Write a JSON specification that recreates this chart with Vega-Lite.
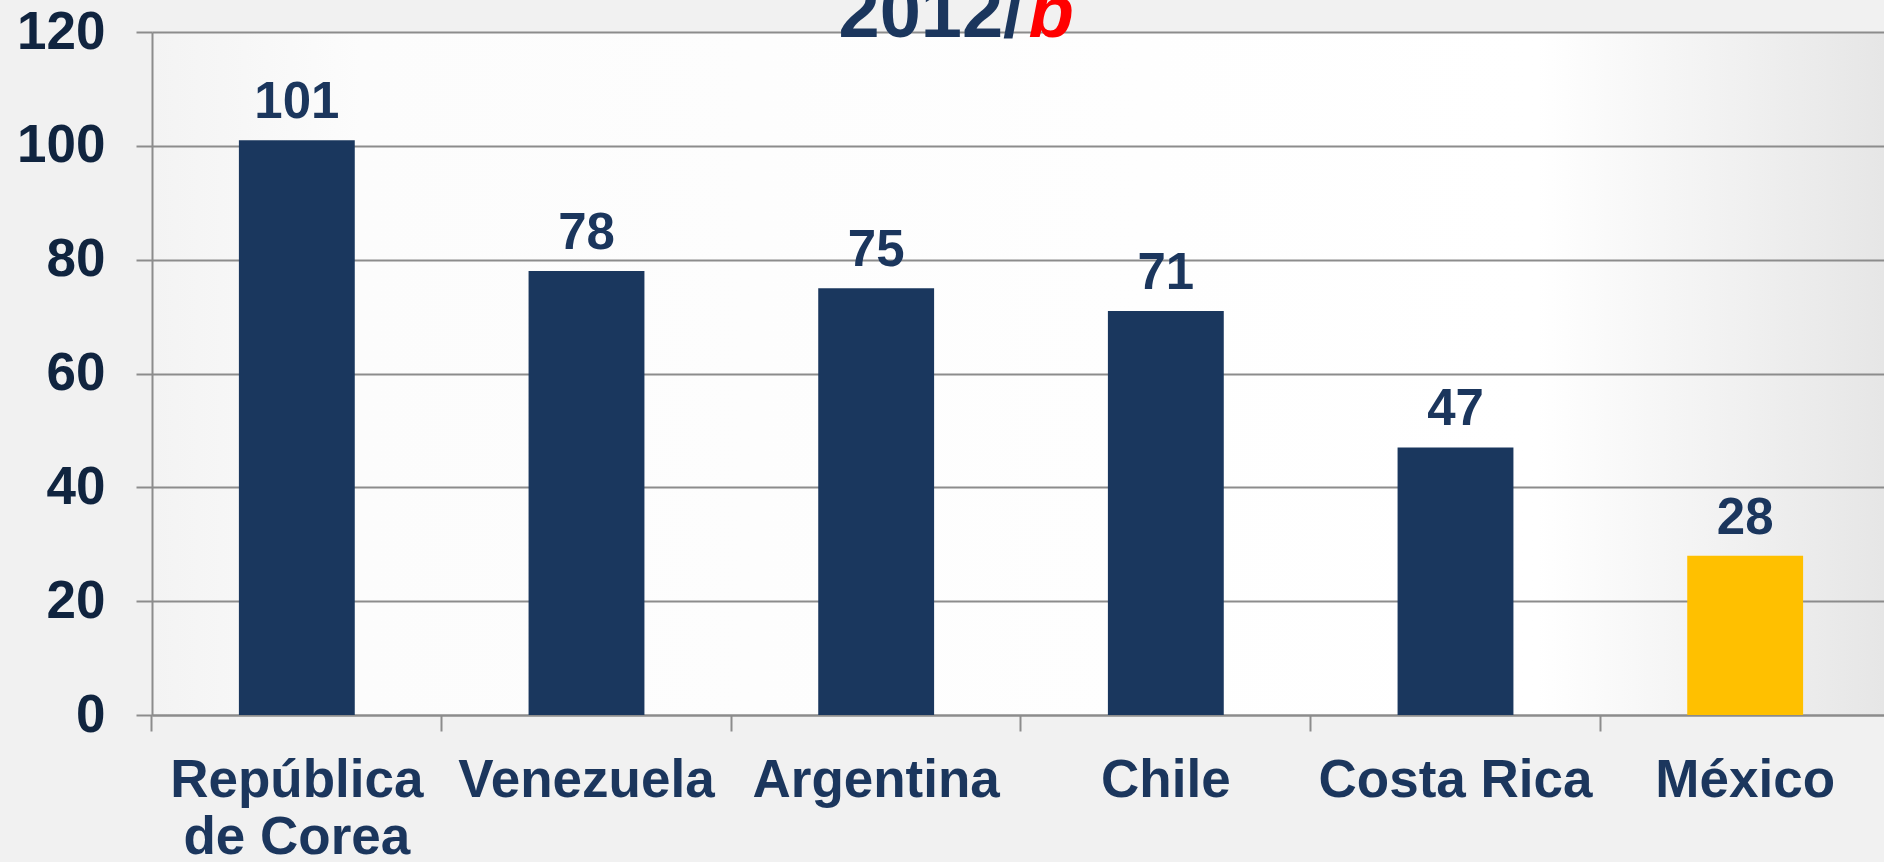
{
  "$schema": "https://vega.github.io/schema/vega-lite/v6.json",
  "width": 1732,
  "height": 683,
  "autosize": {"type": "none"},
  "padding": {"left": 152, "top": 32, "right": 0, "bottom": 147},
  "background": "#f1f1f1",
  "view": {
    "stroke": null,
    "fill": {
      "gradient": "linear", "x1": 0, "y1": 0, "x2": 1, "y2": 0,
      "stops": [
        {"offset": 0, "color": "#f3f3f3"},
        {"offset": 0.12, "color": "#fcfcfc"},
        {"offset": 0.8, "color": "#ffffff"},
        {"offset": 1, "color": "#e6e6e6"}
      ]
    }
  },
  "data": {
    "values": [
      {"country": "República de Corea", "value": 101},
      {"country": "Venezuela", "value": 78},
      {"country": "Argentina", "value": 75},
      {"country": "Chile", "value": 71},
      {"country": "Costa Rica", "value": 47},
      {"country": "México", "value": 28}
    ]
  },
  "encoding": {
    "x": {
      "field": "country",
      "type": "nominal",
      "sort": null,
      "scale": {"range": [0, 1738], "paddingInner": 0.6, "paddingOuter": 0.3},
      "axis": {
        "title": "2012/",
        "titleX": 686,
        "titleY": -679,
        "titleAlign": "left",
        "titleAnchor": null,
        "titleBaseline": "alphabetic",
        "titleFont": "Liberation Sans",
        "titleFontSize": 74,
        "titleFontWeight": "bold",
        "titleColor": "#1b365d",
        "labelAngle": 0,
        "labelFont": "Liberation Sans",
        "labelFontSize": 53,
        "labelFontWeight": "bold",
        "labelColor": "#1b365d",
        "labelLimit": 0,
        "labelPadding": 23,
        "labelLineHeight": 57,
        "labelExpr": "datum.label == 'República de Corea' ? ['República', 'de Corea'] : datum.label",
        "bandPosition": -0.75,
        "ticks": true,
        "tickSize": 16,
        "tickColor": "#8c8c8c",
        "tickWidth": 2,
        "domainColor": "#8c8c8c",
        "domainWidth": 2,
        "grid": false
      }
    },
    "y": {
      "field": "value",
      "type": "quantitative",
      "scale": {"domain": [0, 120], "nice": false},
      "axis": {
        "values": [0, 20, 40, 60, 80, 100, 120],
        "title": "b",
        "titleAngle": 0,
        "titleX": 876,
        "titleY": 4,
        "titleAlign": "left",
        "titleAnchor": null,
        "titleBaseline": "alphabetic",
        "titleFont": "Liberation Sans",
        "titleFontSize": 74,
        "titleFontWeight": "bold",
        "titleFontStyle": "italic",
        "titleColor": "#ff0000",
        "labelFont": "Liberation Sans",
        "labelFontSize": 53,
        "labelFontWeight": "bold",
        "labelColor": "#10243f",
        "labelPadding": 31,
        "tickSize": 16,
        "tickColor": "#8c8c8c",
        "tickWidth": 2,
        "domainColor": "#8c8c8c",
        "domainWidth": 2,
        "grid": true,
        "gridColor": "#8c8c8c",
        "gridWidth": 2
      }
    }
  },
  "layer": [
    {
      "mark": {"type": "bar"},
      "encoding": {
        "color": {
          "condition": {"test": "datum.country == 'México'", "value": "#ffc000"},
          "value": "#1a375e"
        }
      }
    },
    {
      "mark": {
        "type": "text",
        "dy": -22,
        "baseline": "alphabetic",
        "font": "Liberation Sans",
        "fontSize": 51,
        "fontWeight": "bold",
        "color": "#1b365d"
      },
      "encoding": {
        "text": {"field": "value", "type": "quantitative"}
      }
    }
  ]
}
